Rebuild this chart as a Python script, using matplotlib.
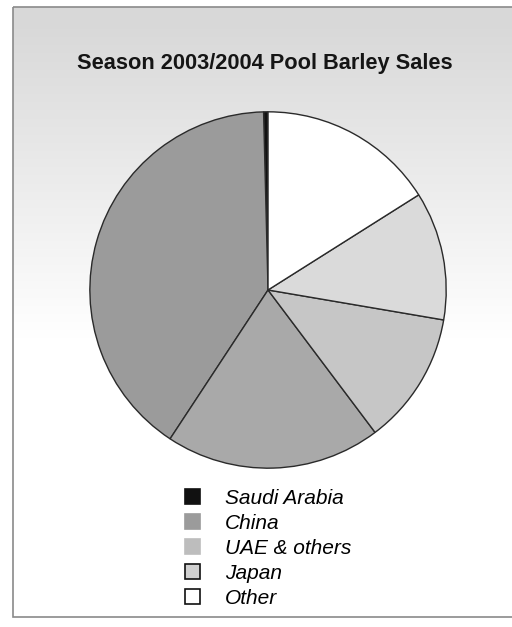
import numpy as np
import matplotlib.pyplot as plt
from matplotlib.patches import Patch, Rectangle

# slices, counter-clockwise from 12 o'clock
countries = ["Saudi Arabia", "China", "UAE & others", "Japan", "", "Other"]
shares = [0.4, 40.5, 19.6, 12.1, 11.7, 16.1]
colors = ["#111111", "#9b9b9b", "#a9a9a9", "#c6c6c6", "#dadada", "#ffffff"]

legend_names = ["Saudi Arabia", "China", "UAE & others", "Japan", "Other"]
legend_colors = ["#111111", "#9b9b9b", "#bdbdbd", "#d0d0d0", "#ffffff"]
legend_edges = ["#111111", "#9b9b9b", "#bdbdbd", "#111111", "#111111"]

W, H = 512, 627
fig = plt.figure(figsize=(W / 100, H / 100), dpi=100)

# background with the grey fade at the top
bg = fig.add_axes([0, 0, 1, 1])
bg.set_xlim(0, W)
bg.set_ylim(H, 0)
bg.axis("off")
fade = np.ones((H, 1))
rows = np.arange(H)
fade[:, 0] = np.clip(0.85 + 0.15 * (rows - 20) / 320.0, 0.85, 1.0)
bg.imshow(np.dstack([fade, fade, fade]), extent=(13, W, 617, 7), aspect="auto", zorder=0)
bg.add_patch(Rectangle((13, 7), W, 610, fill=False, edgecolor="#8a8a8a", lw=1.2, zorder=1))

bg.text(265, 63, "Season 2003/2004 Pool Barley Sales", ha="center", va="center",
        fontsize=15.7, fontweight="bold", family="Liberation Sans", color="#151515")

# pie
ax = fig.add_axes([0.172, 0.2505, 0.703, 0.574])
ax.pie(shares, colors=colors, startangle=90, counterclock=True,
       wedgeprops=dict(edgecolor="#2a2a2a", linewidth=1.0))
ax.set_xlim(-1.01, 1.01)
ax.set_ylim(-1.01, 1.01)
ax.set_aspect("equal")
ax.axis("off")

# legend
handles = [Patch(facecolor=c, edgecolor=e, linewidth=1.2)
           for c, e in zip(legend_colors, legend_edges)]
leg = fig.legend(handles, legend_names, loc="upper left", bbox_to_anchor=(166 / W, 1 - 470 / H),
                 frameon=False, handlelength=0.72, handleheight=0.72, handletextpad=1.2,
                 labelspacing=0.29, prop=dict(family="Liberation Sans", style="italic", size=15))

fig.savefig("out.png", dpi=100)
